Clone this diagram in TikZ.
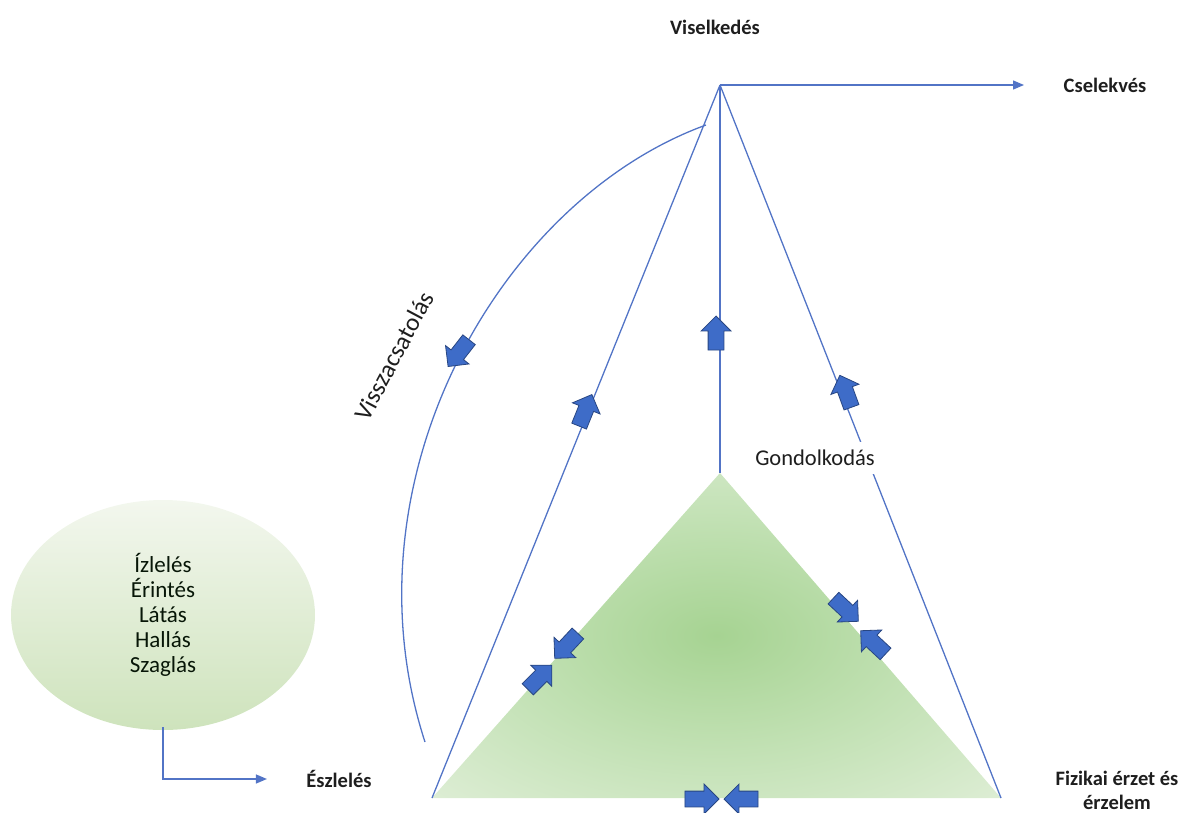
\documentclass[tikz,border=0pt]{standalone}
\usepackage{fontspec}
\setmainfont{Carlito}
\usepackage{tikz}
\usetikzlibrary{positioning, arrows.meta, shapes.geometric, shapes.arrows}
\definecolor{linkblue}{RGB}{82, 116, 198}
\definecolor{padblue}{RGB}{62, 108, 200}
\definecolor{trigreen}{RGB}{166, 211, 146}
\definecolor{trimid}{RGB}{194, 225, 180}
\definecolor{trilight}{RGB}{236, 244, 230}
\definecolor{senselight}{RGB}{243, 247, 238}
\definecolor{sensegreen}{RGB}{206, 227, 188}
\definecolor{labeltext}{RGB}{30, 30, 30}
\pgfdeclareradialshading{triglow}{\pgfpoint{0bp}{0bp}}{color(0bp)=(trigreen); color(18bp)=(trimid); color(45bp)=(trilight); color(50bp)=(trilight)}
\tikzset{
    flow/.style={draw=linkblue, line width=1.3pt},
    flowarrow/.style={flow, -{Triangle[length=11pt,width=9pt]}},
    pad/.style={single arrow, draw=padblue!65!black, fill=padblue, line width=0.8pt, minimum height=34pt, inner sep=7.5pt, single arrow head extend=7pt, single arrow tip angle=90},
    caption/.style={font=\fontsize{20.5}{24}\selectfont\bfseries, text=labeltext},
    plain/.style={font=\fontsize{22.5}{26}\selectfont, text=labeltext},
    sense/.style={ellipse, minimum width=304pt, minimum height=230pt, top color=senselight, bottom color=sensegreen, align=center, font=\fontsize{23}{25}\selectfont, text=labeltext!80!green!30!black}
}

\begin{document}
\begin{tikzpicture}[x=1pt, y=-1pt]
    \useasboundingbox (0,0) rectangle (1194,812);

    % corners of the triangle and the top point
    \coordinate (apex) at (720,85);
    \coordinate (tritop) at (720,473);
    \coordinate (trileft) at (432,798);
    \coordinate (triright) at (1001,798);
    \coordinate (acttip) at (1024,85);
    \coordinate (fbstart) at (706,125);
    \coordinate (fbend) at (425,742);

    \shade[shading=triglow] (tritop) -- (trileft) -- (triright) -- cycle;

    % lines from the top point
    \draw[flow] (apex) -- (trileft);
    \draw[flow] (apex) -- (tritop);
    \draw[flow] (apex) -- (triright);
    \draw[flowarrow] (apex) -- (acttip);
    \draw[flow] (fbstart) .. controls (500,200) and (340,480) .. (fbend);

    % block arrows on the lines
    \node[pad, rotate=232] (padfb) at (461,350) {};
    \node[pad, rotate=68] (padleft) at (584,414) {};
    \node[pad, rotate=90] (padmid) at (716,337) {};
    \node[pad, rotate=110] (padright) at (847,395) {};

    % block arrows on the triangle sides
    \node[pad, rotate=227] (padla) at (569,643) {};
    \node[pad, rotate=45] (padlb) at (537,680) {};
    \node[pad, rotate=-43] (padra) at (843,607) {};
    \node[pad, rotate=137] (padrb) at (876,645) {};
    \node[pad, rotate=0] (padba) at (698,799) {};
    \node[pad, rotate=180] (padbb) at (745,799) {};

    \node[plain, fill=white, inner sep=8pt] (think) at (815,458) {Gondolkodás};

    % labels
    \node[caption] (visel) at (715,27) {Viselkedés};
    \node[caption] (csel) at (1105,85) {Cselekvés};
    \node[caption] (eszl) at (339,779) {Észlelés};
    \node[caption, align=center] (fiz) at (1117,790) {Fizikai érzet és\\érzelem};
    \node[plain, font=\fontsize{25}{28}\selectfont, rotate=62] (feedback) at (394,356) {Visszacsatolás};

    % senses
    \node[sense] (senses) at (163,615) {Ízlelés\\Érintés\\Látás\\Hallás\\Szaglás};
    \draw[flowarrow] ([yshift=3pt]senses.south) |- ([xshift=-36pt]eszl.west);
\end{tikzpicture}
\end{document}
